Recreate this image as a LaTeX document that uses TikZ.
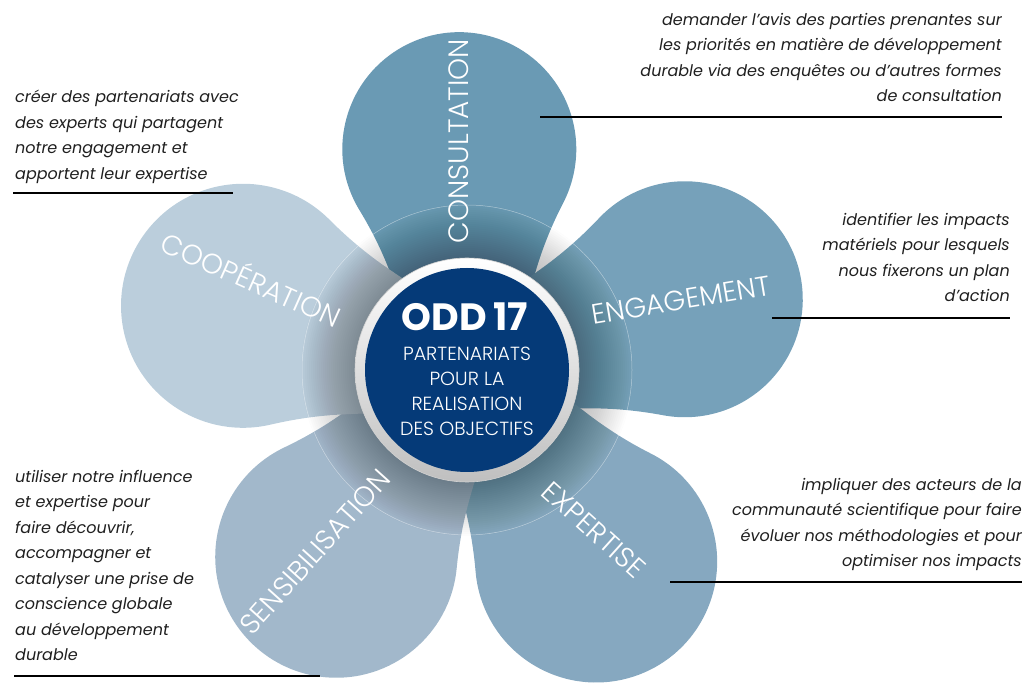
\documentclass[tikz,border=0pt]{standalone}
\usepackage{fontspec}
\setmainfont{Poppins}
\newfontfamily\lightfont{Poppins Light}
\newfontfamily\descfont{Poppins}
\usetikzlibrary{calc}
\definecolor{cConsult}{HTML}{6A9AB4}
\definecolor{cEngage}{HTML}{76A1BA}
\definecolor{cExpert}{HTML}{86A8C0}
\definecolor{cSensib}{HTML}{A2B8CB}
\definecolor{cCoop}{HTML}{BBCEDC}
\definecolor{cOdd}{HTML}{053A78}
\newcommand{\flowerpetal}[4]{%
  \pgfmathsetmacro{\fpD}{#2+18}%
  \pgfmathsetmacro{\fpA}{asin(#3/\fpD)}%
  \pgfmathsetmacro{\fpT}{\fpD*cos(\fpA)}%
  \begin{scope}[shift={(C)},rotate=#1]
    \coordinate (tipP) at (-18,0);
    \coordinate (upP) at ($(tipP)+(\fpA:\fpT)$);
    \fill[#4] (tipP) to[out=\fpA+20, in=180+\fpA, looseness=1.25] (upP)
      arc[start angle=90+\fpA, end angle=-90-\fpA, radius=#3]
      to[out=180-\fpA, in=-\fpA-20, looseness=1.25] (tipP) -- cycle;
  \end{scope}}
\tikzset{
  petallabel/.style={text=white, font=\lightfont\fontsize{28}{30}\selectfont, inner sep=0pt},
  desc/.style={font=\descfont\itshape\fontsize{16}{25.5}\selectfont, inner sep=0pt, text=black!88},
  underline/.style={line width=2.6pt, black},
  centretext/.style={text=white, inner sep=0pt}
}
\begin{document}
\begin{tikzpicture}[x=1pt,y=1pt]
\useasboundingbox (0,0) rectangle (1025,685);
\coordinate (C) at (467,315);
% petals
\flowerpetal{92}{221}{117}{cConsult}
\flowerpetal{18}{229}{118}{cEngage}
\flowerpetal{-56}{231}{121}{cExpert}
\flowerpetal{-125}{228}{121}{cSensib}
\flowerpetal{164}{233}{122}{cCoop}
% shadow around the centre
\foreach \r in {114,116,...,166}{\fill[black, opacity=0.013] (C) circle (\r);}
\draw[white, opacity=0.45, line width=0.5pt] (C) circle (165);
% centre disc
\shade[top color=white, bottom color=black!25] (C) circle (112);
\draw[black!18, line width=0.6pt] (C) circle (112);
\fill[cOdd] (C) circle (102);
\node[centretext, font=\bfseries\fontsize{38}{40}\selectfont, anchor=base] (odd) at (465,354) {ODD\,17};
\node[centretext, font=\lightfont\fontsize{19}{25}\selectfont, align=center, anchor=north] (sub) at (467,338) {PARTENARIATS\\POUR LA\\REALISATION\\DES OBJECTIFS};
% petal labels
\node[petallabel, rotate=90] (consult) at (459,544) {CONSULTATION};
\node[petallabel, rotate=9.5] (engage) at (681,385) {ENGAGEMENT};
\node[petallabel, rotate=-24] (coop) at (252,407) {COOPÉRATION};
\node[petallabel, rotate=-42] (expert) at (594,155) {EXPERTISE};
\node[petallabel, rotate=48] (sensib) at (315,133) {SENSIBILISATION};
% descriptions
\node[desc, align=right, anchor=north east] (dConsult) at (1002,672) {demander l’avis des parties prenantes sur\\les priorités en matière de développement\\durable via des enquêtes ou d’autres formes\\de consultation};
\node[desc, align=left, anchor=north west] (dCoop) at (15,595) {créer des partenariats avec\\des experts qui partagent\\notre engagement et\\apportent leur expertise};
\node[desc, align=right, anchor=north east] (dEngage) at (1010,472) {identifier les impacts\\matériels pour lesquels\\nous fixerons un plan\\d’action};
\node[desc, align=right, anchor=north east] (dExpert) at (1022,207) {impliquer des acteurs de la\\communauté scientifique pour faire\\évoluer nos méthodologies et pour\\optimiser nos impacts};
\node[desc, align=left, anchor=north west] (dSensib) at (15,215) {utiliser notre influence\\et expertise pour\\faire découvrir,\\accompagner et\\catalyser une prise de\\conscience globale\\au développement\\durable};
% underlines
\coordinate (u1a) at (540,568); \coordinate (u1b) at (1002,568);
\coordinate (u2a) at (13,492);  \coordinate (u2b) at (233,492);
\coordinate (u3a) at (772,367); \coordinate (u3b) at (1010,367);
\coordinate (u4a) at (670,103); \coordinate (u4b) at (1022,103);
\coordinate (u5a) at (14,9);    \coordinate (u5b) at (320,9);
\draw[underline] (u1a) -- (u1b);
\draw[underline] (u2a) -- (u2b);
\draw[underline] (u3a) -- (u3b);
\draw[underline] (u4a) -- (u4b);
\draw[underline] (u5a) -- (u5b);
\end{tikzpicture}
\end{document}
